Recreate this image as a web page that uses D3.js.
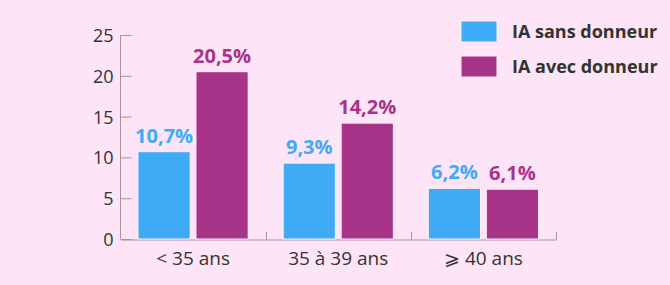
<!DOCTYPE html>
<html><head><meta charset="utf-8">
<script src="https://cdn.jsdelivr.net/npm/d3@7"></script>
<style>
html,body{margin:0;padding:0;background:#fde4f6;}
svg{display:block;}
</style></head>
<body>
<script>
const categories = ["< 35 ans", "35 à 39 ans", "⩾ 40 ans"];
const seriesNames = ["IA sans donneur", "IA avec donneur"];
const sansDonneur = [10.7, 9.3, 6.2];
const avecDonneur = [20.5, 14.2, 6.1];
const valueLabels = [["10,7%", "9,3%", "6,2%"], ["20,5%", "14,2%", "6,1%"]];
const yTicks = [0, 5, 10, 15, 20, 25];
const colors = ["#3fabf5", "#a8348a"];

const W = 670, H = 285;
const svg = d3.select("body").append("svg").attr("width", W).attr("height", H);
svg.append("rect").attr("width", W).attr("height", H).attr("fill", "#fde4f6");

const x0 = d3.scaleBand().domain(categories).range([120.5, 556]).paddingInner(0).paddingOuter(0);
const x1 = d3.scaleBand().domain([0, 1]).range([17.5, x0.bandwidth() - 17.5]).paddingInner(0.1).paddingOuter(0);
const y = d3.scaleLinear().domain([0, 25]).range([239, 35]);

const font = "'Open Sans', Lato, sans-serif";
const axisColor = "#a8929f";
const textColor = "#333";

// y axis
const yAxis = svg.append("g").attr("transform", "translate(120.5,0)")
  .call(d3.axisRight(y).tickValues(yTicks).tickSize(11).tickFormat(d3.format("d")));
yAxis.select(".domain").attr("stroke", axisColor).attr("d", `M0,${y(25)}V${y(0)}`);
yAxis.selectAll(".tick line").attr("stroke", axisColor);
yAxis.selectAll(".tick text").attr("x", -7).attr("text-anchor", "end")
  .attr("fill", textColor).style("font-family", font).style("font-size", "18px").attr("dy", "0.36em");

// x axis
const xAxis = svg.append("g").attr("transform", `translate(0,${y(0) + 0.5})`)
  .call(d3.axisBottom(x0).tickSize(0).tickSizeOuter(0));
xAxis.select(".domain").attr("stroke", axisColor);
xAxis.selectAll(".tick text").attr("y", 19).attr("dy", "0.36em")
  .attr("fill", textColor).style("font-family", font).style("font-size", "19px");
// separator ticks
const seps = categories.slice(1).map(c => x0(c)).concat([x0.range()[1]]);
svg.append("g").selectAll("line").data(seps).join("line")
  .attr("x1", d => Math.round(d) + 0.5).attr("x2", d => Math.round(d) + 0.5)
  .attr("y1", y(0) + 0.5).attr("y2", y(0) - 7)
  .attr("stroke", axisColor);

const series = [sansDonneur, avecDonneur];
const groups = svg.append("g").selectAll("g").data(categories).join("g")
  .attr("transform", c => `translate(${x0(c)},0)`);

groups.each(function(c, i) {
  const g = d3.select(this);
  series.forEach((s, k) => {
    g.append("rect")
      .attr("x", x1(k)).attr("width", x1.bandwidth())
      .attr("y", y(s[i])).attr("height", y(0) - y(s[i]))
      .attr("fill", colors[k]).attr("stroke", "#ffeefa").attr("stroke-width", 1);
    g.append("text")
      .attr("x", x1(k) + x1.bandwidth() / 2).attr("y", y(s[i]) - 9)
      .attr("text-anchor", "middle").attr("fill", colors[k])
      .style("font-family", font).style("font-weight", "bold").style("font-size", "20px")
      .text(valueLabels[k][i]);
  });
});

// legend
const legend = svg.append("g").selectAll("g").data(seriesNames).join("g")
  .attr("transform", (d, i) => `translate(461,${21 + i * 35})`);
legend.append("rect").attr("width", 36).attr("height", 21)
  .attr("fill", (d, i) => colors[i]).attr("stroke", "#ffeefa");
legend.append("text").attr("x", 51).attr("y", 10.5).attr("dy", "0.36em")
  .attr("fill", textColor).style("font-family", font).style("font-weight", "bold").style("font-size", "18px")
  .text(d => d);
</script>
</body></html>
